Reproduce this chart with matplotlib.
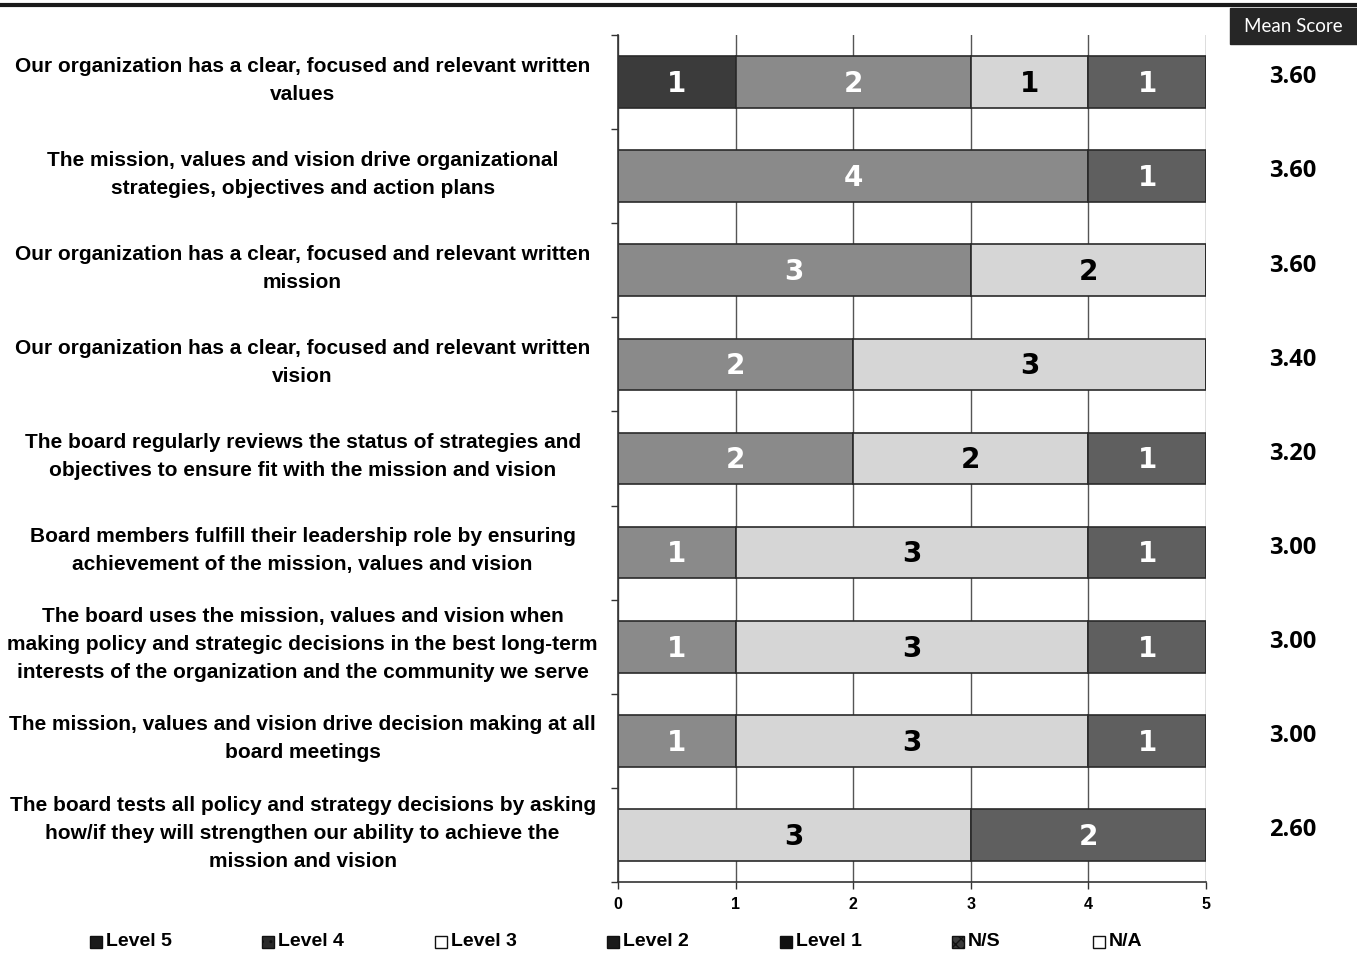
import numpy as np
import matplotlib
matplotlib.use("Agg")
import matplotlib.pyplot as plt
from matplotlib import font_manager
from matplotlib.patches import Rectangle
from matplotlib.lines import Line2D
from matplotlib.transforms import blended_transform_factory

installed = {f.name for f in font_manager.fontManager.ttflist}
if "DejaVu Sans Condensed" in installed:
    NARROW, LABEL_SIZE = "DejaVu Sans Condensed", 16
else:
    NARROW, LABEL_SIZE = "Liberation Sans", 15

questions = [
    "Our organization has a clear, focused and relevant written\nvalues",
    "The mission, values and vision drive organizational\nstrategies, objectives and action plans",
    "Our organization has a clear, focused and relevant written\nmission",
    "Our organization has a clear, focused and relevant written\nvision",
    "The board regularly reviews the status of strategies and\nobjectives to ensure fit with the mission and vision",
    "Board members fulfill their leadership role by ensuring\nachievement of the mission, values and vision",
    "The board uses the mission, values and vision when\nmaking policy and strategic decisions in the best long-term\ninterests of the organization and the community we serve",
    "The mission, values and vision drive decision making at all\nboard meetings",
    "The board tests all policy and strategy decisions by asking\nhow/if they will strengthen our ability to achieve the\nmission and vision",
]

levels = ["Level 5", "Level 4", "Level 3", "Level 2", "Level 1", "N/S", "N/A"]
scores = [5, 4, 3, 2, 1]

# response counts per question
level5 = [1, 0, 0, 0, 0, 0, 0, 0, 0]
level4 = [2, 4, 3, 2, 2, 1, 1, 1, 0]
level3 = [1, 0, 2, 3, 2, 3, 3, 3, 3]
level2 = [1, 1, 0, 0, 1, 1, 1, 1, 2]
level1 = [0, 0, 0, 0, 0, 0, 0, 0, 0]

counts = np.array([level5, level4, level3, level2, level1], dtype=float)
means = (counts * np.array(scores)[:, None]).sum(axis=0) / counts.sum(axis=0)

seg_colors = ["#3b3b3b", "#8a8a8a", "#d6d6d6", "#5f5f5f", "#1e1e1e"]
txt_colors = ["white", "white", "black", "white", "white"]

fig = plt.figure(figsize=(13.57, 9.59), dpi=100)
ax = fig.add_axes([0.4554, 0.0803, 0.4333, 0.8832])

y = np.arange(len(questions))
left = np.zeros(len(questions))
for i in range(5):
    vals = counts[i]
    ax.barh(y, vals, left=left, height=0.55, color=seg_colors[i],
            edgecolor="#2a2a2a", linewidth=1.2, zorder=2)
    for yy, v, l in zip(y, vals, left):
        if v > 0:
            ax.text(l + v / 2, yy + 0.02, f"{int(v)}", ha="center", va="center",
                    fontsize=20, fontweight="bold", color=txt_colors[i],
                    zorder=3)
    left += vals

ax.set_xlim(0, 5)
ax.set_ylim(len(questions) - 0.5, -0.5)
ax.set_xticks(range(6))
ax.set_xticklabels([str(t) for t in range(6)], family=NARROW,
                   fontweight="bold", fontsize=11.5)
ax.set_yticks([])
ax.set_yticks(np.arange(-0.5, len(questions)), minor=True)
ax.tick_params(axis="y", which="minor", length=5, width=1, color="#333")
ax.tick_params(axis="x", length=5, width=1, color="#333", pad=6)
ax.grid(axis="x", color="#555", linewidth=1, zorder=0)
ax.set_axisbelow(True)
for s in ["top", "right"]:
    ax.spines[s].set_visible(False)
for s in ["left", "bottom"]:
    ax.spines[s].set_color("#333")
    ax.spines[s].set_linewidth(1.2)

# question labels, centered in the left margin
trans = blended_transform_factory(fig.transFigure, ax.transData)
for yy, q in zip(y, questions):
    ax.text(0.223, yy - 0.02, q, transform=trans, ha="center", va="center",
            multialignment="center", family=NARROW, fontweight="bold",
            fontsize=LABEL_SIZE, linespacing=1.6)

# mean score column
for yy, m in zip(y, means):
    ax.text(0.9528, yy - 0.05, f"{m:.2f}", transform=trans, ha="center",
            va="center", family="Open Sans", fontweight="bold", fontsize=17)

fig.add_artist(Rectangle((1230 / 1357, 1 - 44 / 959), 127 / 1357, 36 / 959,
                         transform=fig.transFigure, color="#262626"))
fig.text(1293 / 1357, 1 - 26 / 959, "Mean Score", ha="center", va="center",
         color="white", family="Lato", fontsize=13.5)
fig.add_artist(Line2D([0, 1], [1 - 5 / 959, 1 - 5 / 959],
                      transform=fig.transFigure, color="#1a1a1a", linewidth=3))

# legend row
leg_x = [90, 262, 435, 607, 780, 952, 1093]
leg_face = ["#1a1a1a", "#2a2a2a", "white", "#1a1a1a", "#111111", "#3a3a3a", "white"]
leg_hatch = [None, "..", None, None, None, "xxx", None]
for xp, lab, fc, h in zip(leg_x, levels, leg_face, leg_hatch):
    fig.add_artist(Rectangle((xp / 1357, 1 - 948 / 959), 12 / 1357, 12 / 959,
                             transform=fig.transFigure, facecolor=fc,
                             edgecolor="#111", linewidth=1, hatch=h))
    fig.text((xp + 16) / 1357, 1 - 942 / 959, lab, ha="left", va="center",
             family=NARROW, fontweight="bold", fontsize=14)

fig.savefig("out.png", dpi=100)
